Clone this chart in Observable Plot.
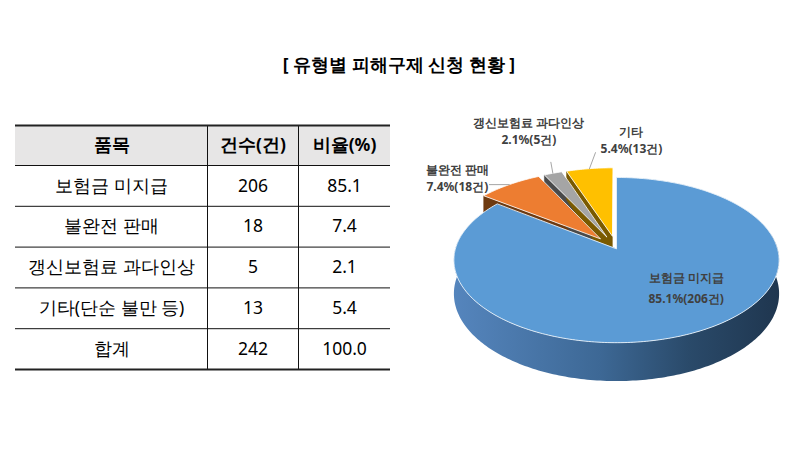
<!DOCTYPE html>
<html>
<head>
<meta charset="utf-8">
<script src="https://cdn.jsdelivr.net/npm/d3@7"></script>
<script src="https://cdn.jsdelivr.net/npm/@observablehq/plot@0.6"></script>
<style>
  html, body { margin: 0; padding: 0; background: #fff; }
  #chart { width: 797px; height: 458px; }
</style>
</head>
<body>
<div id="chart"></div>
<script>
// ---------------- data ----------------
const title = "[ 유형별 피해구제 신청 현황 ]";
const headers = ["품목", "건수(건)", "비율(%)"];
const categories = ["보험금 미지급", "불완전 판매", "갱신보험료 과다인상", "기타(단순 불만 등)"];
const counts = [206, 18, 5, 13];
const ratios = [85.1, 7.4, 2.1, 5.4];
const totalLabel = "합계";
const totalCount = 242;
const totalRatio = 100.0;
const pieNames = ["보험금 미지급", "불완전 판매", "갱신보험료 과다인상", "기타"];

// ---------------- styles / layout ----------------
const W = 797, H = 458;
const FONT = "'Noto Sans'";
const sliceColors = ["#5b9bd5", "#ed7d31", "#a5a5a5", "#ffc000"];
const wallColors = ["#2e4d6e", "#6e3a10", "#4a4a4a", "#7a5a00"];
const colEdges = [15, 207, 298, 390];
const tableTop = 125, headerH = 40, rowH = 40.8;
const pie = {cx: 616, cy: 248, rx: 161, ry: 81, persp: 0.14, depth: 33};
const explode = [0, 0.16, 0.16, 0.16];
const labelLayout = [
  {inside: true, r: 0.5, dx: 31, dy: -1, lh: 1.75},
  {dx: -52, dy: -8, lx: -20, ly: 0, lh: 1.42},
  {dx: -24, dy: -43, lx: -2, ly: -11, lh: 1.42},
  {dx: 42, dy: -30, lx: 6, ly: -16, lh: 1.42}
];

// ---------------- table geometry ----------------
const tableRows = [
  headers,
  ...categories.map((c, i) => [c, String(counts[i]), ratios[i].toFixed(1)]),
  [totalLabel, String(totalCount), totalRatio.toFixed(1)]
];
const rowTop = i => i === 0 ? tableTop : tableTop + headerH + (i - 1) * rowH;
const rowMid = i => i === 0 ? tableTop + headerH / 2 : rowTop(i) + rowH / 2;
const tableBottom = rowTop(tableRows.length);
const colMid = j => (colEdges[j] + colEdges[j + 1]) / 2;
const cells = tableRows.flatMap((r, i) => r.map((t, j) => ({row: i, col: j, t, x: colMid(j), y: rowMid(i)})));
const innerLines = d3.range(1, tableRows.length).map(rowTop);

// ---------------- pie geometry ----------------
const arcs = d3.pie().sort(null).value(d => d)(counts);
function proj(u, v, h) {
  const w = 1 + pie.persp * v;
  return {x: pie.cx + pie.rx * u / w, y: pie.cy - pie.ry * v / w + pie.depth * h / w};
}
function offsetOf(i) {
  const a = (arcs[i].startAngle + arcs[i].endAngle) / 2;
  return [explode[i] * Math.sin(a), explode[i] * Math.cos(a)];
}
function arcPts(a0, a1, off, h, r = 1) {
  const n = Math.max(2, Math.ceil(Math.abs(a1 - a0) / (Math.PI / 180)));
  return d3.range(n + 1).map(k => {
    const a = a0 + (a1 - a0) * k / n;
    return proj(off[0] + r * Math.sin(a), off[1] + r * Math.cos(a), h);
  });
}
const polys = [];
// exploded slices: walls first
arcs.forEach((a, i) => {
  if (i === 0) return;
  const off = offsetOf(i);
  const s = a.startAngle;
  polys.push({pts: [proj(off[0], off[1], 0), proj(off[0] + Math.sin(s), off[1] + Math.cos(s), 0),
                    proj(off[0] + Math.sin(s), off[1] + Math.cos(s), 1), proj(off[0], off[1], 1)],
              fill: wallColors[i], stroke: wallColors[i], sw: 0.5});
});
// exploded slice tops
arcs.forEach((a, i) => {
  if (i === 0) return;
  const off = offsetOf(i);
  polys.push({pts: [proj(off[0], off[1], 0), ...arcPts(a.startAngle, a.endAngle, off, 0)],
              fill: sliceColors[i], stroke: "#ffffff", sw: 0.8});
});
// main slice side (front, visible part) and top
{
  const off = offsetOf(0);
  const a0 = Math.PI * 80 / 180, a1 = Math.PI * 280 / 180;
  polys.push({pts: [...arcPts(a0, a1, off, 0), ...arcPts(a1, a0, off, 1)],
              fill: "url(#sideGrad)", stroke: "none", sw: 0});
  polys.push({pts: [proj(off[0], off[1], 0), ...arcPts(arcs[0].startAngle, arcs[0].endAngle, off, 0)],
              fill: sliceColors[0], stroke: "#e8f0f8", sw: 0.9});
}

// labels
const labels = arcs.map((a, i) => {
  const mid = (a.startAngle + a.endAngle) / 2;
  const off = offsetOf(i);
  const L = labelLayout[i];
  const text = `${pieNames[i]}\n${ratios[i].toFixed(1)}%(${counts[i]}건)`;
  if (L.inside) {
    const p = proj(off[0] + L.r * Math.sin(mid), off[1] + L.r * Math.cos(mid), 0);
    return {x: p.x + L.dx, y: p.y + L.dy, text, lh: L.lh};
  }
  const p = proj(off[0] + Math.sin(mid), off[1] + Math.cos(mid), 0);
  return {x: p.x + L.dx, y: p.y + L.dy, text, lh: L.lh,
          leader: [{x: p.x, y: p.y}, {x: p.x + L.lx, y: p.y + L.ly}]};
});

// ---------------- plot ----------------
const marks = [
  Plot.text([title], {x: W / 2, y: 65, text: d => d, fontSize: 17.5, fontWeight: "bold", fill: "#000"}),
  Plot.rect([0], {x1: colEdges[0], x2: colEdges[colEdges.length - 1], y1: tableTop, y2: tableTop + headerH, fill: "#e7e6e6"}),
  Plot.ruleY(innerLines, {x1: colEdges[0], x2: colEdges[colEdges.length - 1], stroke: "#111", strokeWidth: 1}),
  Plot.ruleX(colEdges.slice(1, -1), {y1: tableTop, y2: tableBottom, stroke: "#111", strokeWidth: 1}),
  Plot.ruleY([tableTop, tableBottom], {x1: colEdges[0], x2: colEdges[colEdges.length - 1], stroke: "#222", strokeWidth: 2.2}),
  Plot.text(cells.filter(d => d.row === 0), {x: "x", y: "y", text: "t", fontSize: 17.5, fontWeight: "bold", fill: "#000"}),
  Plot.text(cells.filter(d => d.row > 0), {x: "x", y: "y", text: "t", fontSize: 17.5, fill: "#000"}),
  ...polys.map(p => Plot.line(p.pts, {x: "x", y: "y", curve: "linear-closed", fill: p.fill, stroke: p.stroke, strokeWidth: p.sw})),
  ...labels.filter(l => l.leader).map(l => Plot.line(l.leader, {x: "x", y: "y", stroke: "#a6a6a6", strokeWidth: 1})),
  ...labels.map(l => Plot.text([l], {x: "x", y: "y", text: "text", fontSize: 12, fontWeight: "bold", fill: "#404040", lineHeight: l.lh}))
];

const svg = Plot.plot({
  width: W, height: H, margin: 0,
  style: {fontFamily: FONT, background: "#fff", overflow: "visible"},
  x: {domain: [0, W], range: [0, W], axis: null},
  y: {domain: [0, H], range: [0, H], axis: null},
  marks
});
const defs = document.createElementNS("http://www.w3.org/2000/svg", "defs");
defs.innerHTML = `<linearGradient id="sideGrad" x1="0" x2="1" y1="0" y2="0">
  <stop offset="0" stop-color="#5585bd"/>
  <stop offset="0.45" stop-color="#3d6895"/>
  <stop offset="0.72" stop-color="#2a4a6a"/>
  <stop offset="1" stop-color="#1f364f"/>
</linearGradient>`;
svg.insertBefore(defs, svg.firstChild);
document.getElementById("chart").appendChild(svg);
</script>
</body>
</html>
